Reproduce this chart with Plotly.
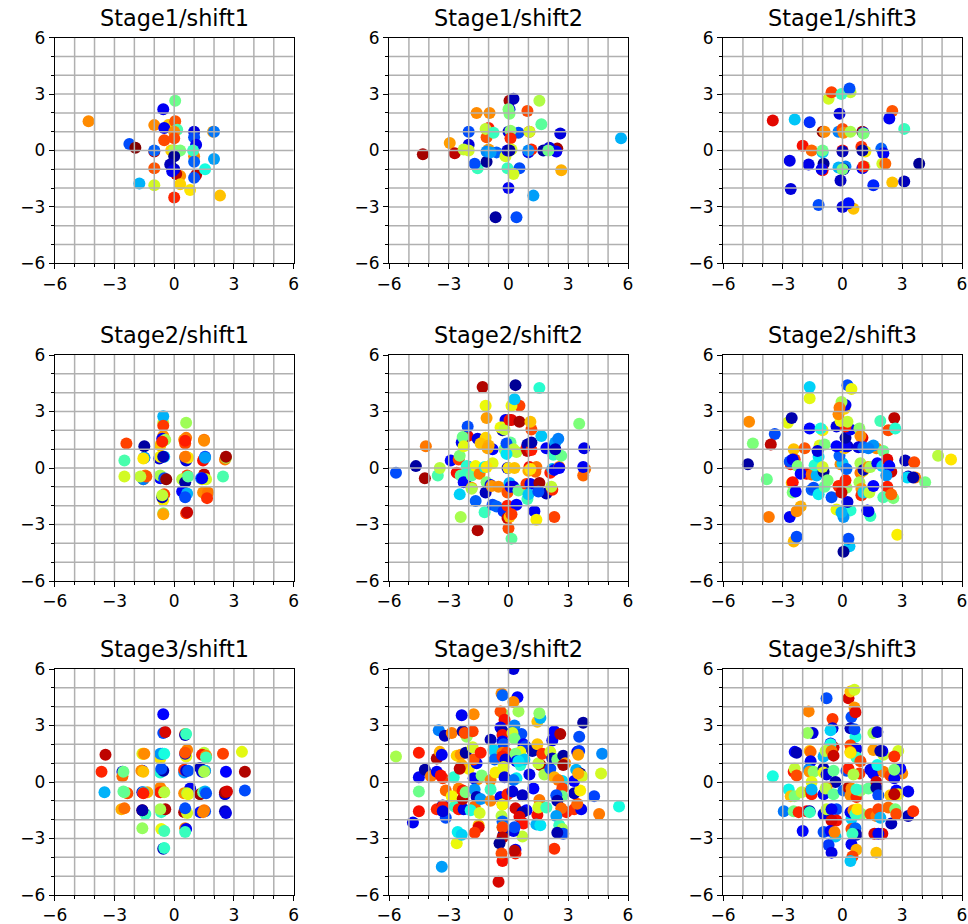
import plotly.graph_objects as go

# each point: (x, y, colour value on the jet scale 0..1)
stage1_shift1 = [(-4.3,1.55,.76),(-2.25,.35,.2),(-1.95,.15,1.0),(-1,1.35,.76),(-.55,2.2,.1),(.05,2.65,.48),(-.3,1.35,.7),(-.5,1.2,.1),(.05,1.55,.82),(.15,1.1,.44),(0,1,.76),(-.5,.55,.83),(0,.65,.83),(1,1,.08),(1,.7,.2),(1.1,.3,.1),(1.95,1,.74),(2,1,.24),(-1,-.05,.95),(-1,0,.22),(0,0,1.0),(-.15,0,.68),(0,0,.56),(.3,0,.5),(1,-.3,.76),(.95,0,.42),(1,-.6,.22),(2,-.45,.28),(0,-.3,.02),(-.2,-.75,.05),(-1,-.95,.82),(.3,-1.35,.75),(.1,-1.25,.95),(0,-1,.07),(-.1,-1.1,.1),(1.1,-1.3,.95),(1,-1.45,.2),(1.55,-1,.38),(-1.75,-1.75,.3),(-1,-1.85,.6),(.3,-1.8,.68),(.8,-2.1,.66),(2.3,-2.4,.7),(0,-2.5,.87)]
stage1_shift2 = [(-4.3,-.2,.97),(-2.95,.4,.74),(-2.7,-.15,.95),(-2,.3,.08),(-2.25,.05,.58),(-2,0,.6),(-2,1,.2),(-1.55,-.95,.42),(-1.7,-.7,.2),(-1.6,2,.76),(-.95,2,.76),(-1.1,.7,.82),(-1,1.2,.88),(-1.15,1.15,.58),(-.75,.95,.42),(-1.1,-.6,.02),(-1,.05,.74),(-1.1,-.05,.26),(-.6,-.1,.22),(-.9,-.1,.28),(-.65,-3.55,.03),(.4,-3.55,.2),(0,-2,.1),(1.25,-2.4,.28),(.05,2.65,.97),(.25,2.75,.05),(.05,2.2,.1),(0,2.2,.5),(.05,1.95,.5),(1.55,2.65,.56),(.95,2.1,.83),(1.65,1.4,.46),(0,1,.08),(.5,.95,.2),(.1,1.05,.52),(.1,.65,.87),(1.05,1,.85),(1.05,1,.6),(2.6,.9,.08),(-.15,-.3,.6),(.15,.05,.6),(0,0,.86),(-.05,0,.08),(.05,0,.03),(-.05,-.95,.42),(.55,-.95,.2),(.25,-1.25,.6),(1,-.1,.1),(1.15,.05,.87),(1,0,.26),(1.75,0,.03),(2.45,.1,.97),(2.05,.15,.08),(2.4,-.05,.1),(2,0,.48),(2.65,-1.05,.72),(5.65,.65,.3)]
stage1_shift3 = [(-3.5,1.6,.92),(-2.4,1.65,.32),(-1.65,1.5,.17),(-2,.25,.9),(-1.55,0,.8),(-2.65,-.55,.09),(-1.7,-.75,.09),(-2.6,-2.05,.08),(-1.2,-2.9,.2),(-.95,-.7,.02),(-1,-1.05,.9),(-1.05,-1,.1),(-1,1,.98),(-.9,1,.76),(-1,-.1,.32),(-1,0,.48),(-.2,1,.25),(0,1.15,.83),(.05,.95,.76),(.4,1,.55),(-.15,1.95,.08),(-.7,2.75,.6),(-.55,3.1,.84),(.4,3.1,.58),(-.05,3,.42),(.35,3.3,.2),(1,1,.98),(1.05,.95,.1),(1.05,.9,.5),(2.5,2.1,.82),(2.35,1.7,.1),(3.1,1.15,.42),(0,0,.9),(0,-.05,.05),(.95,.2,.86),(1.15,-.05,.65),(1,0,.03),(1.95,.1,.22),(2.05,-.15,.1),(2,-.7,.6),(2.15,-.7,.8),(3.85,-.7,.02),(-.2,-.9,.3),(.15,-.85,.25),(.05,-1,.05),(0,-1,.5),(1.1,-.85,.55),(1,-.95,.1),(1.05,-.85,.88),(-.1,-1.6,.06),(1.55,-1.85,.16),(2.5,-1.7,.7),(3.1,-1.65,.05),(.55,-3.1,.7),(0,-3,.08),(.3,-2.8,.14)]
stage2_shift1 = [(-2.5,.4,.44),(-2.4,1.3,.84),(-2.5,-.45,.6),(-1.5,1.15,.03),(-1.5,.55,.2),(-1.5,.55,.28),(-1.55,.5,.66),(-1.45,-.4,.78),(-1.55,-.6,.76),(-1.55,-.6,.25),(-1.4,-.45,.82),(-1.7,-.45,.58),(-.55,2.4,.58),(-.55,2.75,.3),(-.55,2.25,.85),(-.7,1.2,.7),(-.55,1.7,.75),(-.6,1.55,.1),(-.45,1.5,.55),(-.6,1.4,.87),(-.5,.6,.3),(-.75,.5,.08),(-.7,.6,.65),(-.55,.6,.05),(-.7,-.55,.12),(-.7,-.4,.55),(-.5,-.55,.2),(-.4,-.6,.98),(-.5,-1.4,.84),(-.55,-1.7,.65),(-.6,-1.55,.05),(-.6,-1.45,.58),(-.55,-2.4,.5),(-.55,-2.45,.73),(.6,2.4,.54),(.6,1.6,.78),(.5,1.5,.76),(.55,1.3,.83),(.55,1.45,.88),(.6,.6,.76),(.55,.55,.25),(.6,.4,.08),(.7,.55,.66),(.55,.6,.78),(.65,-.4,.85),(.4,-.6,.57),(.55,-.75,.03),(.7,-.45,.46),(.4,-1.25,.12),(.65,-1.35,.3),(.55,-1.55,.2),(.6,-2.4,.84),(.65,-2.35,.94),(1.5,1.5,.78),(1.5,1.45,.76),(1.45,.4,.9),(1.55,.6,.2),(1.55,.55,.28),(1.5,-.35,.95),(1.4,-.6,.65),(1.6,-.6,.6),(1.35,-.55,.25),(1.4,-.55,.1),(1.45,-1.3,.76),(1.7,-1.3,.78),(1.65,-1.6,.86),(2.55,.45,.78),(2.6,.55,.55),(2.6,.6,.97),(2.45,-.45,.44)]
stage2_shift2 = [(-5.65,-.25,.2),(-4.65,.1,.03),(-4.2,-.55,.97),(-4.15,1.15,.78),(-3.55,-.4,.44),(-3.45,0,.57),(-2.9,.4,.13),(-2.6,-.25,.9),(-2.5,.45,.84),(-2.45,.65,.5),(-2.4,-2.6,.55),(-2.45,-1.4,.33),(-2.05,1.7,.92),(-2.35,1.35,.1),(-2.3,1.65,.48),(-2.05,2.2,.2),(-2.25,1.15,.62),(-2.1,-.5,.03),(-2,.05,.1),(-2.1,.1,.4),(-2.4,-.4,.46),(-2.2,-.4,.42),(-2.25,-.75,.12),(-1.85,-1.05,.75),(-1.85,-1.1,.56),(-1.85,-.4,.46),(-1.65,-1.75,.22),(-1.65,.1,.64),(-1.45,-.3,.78),(-1.55,-3.3,.96),(-1.55,1.55,.09),(-1.3,4.3,.96),(-1.15,3.3,.63),(-1.1,2.65,.74),(-1.2,-2.35,.42),(-1.15,-1.3,.05),(-1.1,-.75,.5),(-1.2,.05,.36),(-.8,1,.12),(-1.15,1.6,.68),(-1.4,1.3,.7),(-1,1.2,.72),(-1.05,1.05,.73),(-.8,.25,.62),(-1.1,.05,.66),(-.9,-.9,.1),(-.85,-.95,.75),(-.5,-1,.76),(-.8,-1.95,.2),(-.6,-2.05,.22),(-.25,-2.3,.17),(-.15,2.55,.1),(-.3,2,.05),(-.3,2.15,.68),(-.4,2.15,.63),(-.2,2.05,.58),(.05,2.55,.9),(.15,2.55,.92),(.55,2.45,.97),(.55,3.3,.84),(.15,3.3,.63),(.3,3.65,.32),(.35,4.4,.02),(-.2,1,.52),(.1,1.35,.47),(-.1,1.3,.2),(.4,.85,.57),(.25,1,.58),(-.1,.75,.35),(-.05,0,.08),(0,0,.66),(.3,0,.7),(-.05,-1.3,.82),(.05,-.8,.3),(.1,-1,.1),(.25,-1,.09),(.5,-1.2,.48),(-.05,-2,.88),(.4,-1.95,.12),(-.05,-2.65,.94),(.05,-2.6,.7),(.15,-2.45,.85),(0,-3.2,.83),(.15,-3.75,.46),(.9,1.05,.88),(.95,.9,.95),(.95,1.25,.05),(1.15,.95,.88),(1.15,1.35,.04),(1.15,2.05,.83),(1.1,2.45,.7),(1.65,1.7,.32),(1.55,4.25,.4),(1.05,.05,.9),(1.4,.05,.78),(1.35,-.2,.8),(1,-.15,.72),(1.1,-.05,.66),(.9,-.85,.85),(1.1,-.85,.1),(.95,-1.65,.43),(1,-1.4,.32),(1.3,-2.3,.1),(1.4,-2.75,.65),(1.9,-1.35,.05),(1.55,-.8,.97),(1.5,-1.25,.2),(1.9,1.05,.1),(2.3,-2.6,.84),(2.1,-.25,.88),(2.2,-1.15,.87),(2.15,-1,.58),(2.2,-.05,.3),(2.3,-.1,.1),(2.55,.05,.78),(2.55,0,.12),(2.25,.7,.42),(2.65,.65,.48),(2.35,1.35,.28),(2.5,1.55,.25),(2.35,1,.05),(3.55,2.35,.5),(3.85,-.05,.78),(3.75,-.4,.8),(3.75,.05,.1),(3.8,1.05,.09)]
stage2_shift3 = [(-4.75,.2,.03),(-4.69,2.46,.76),(-4.5,1.3,.5),(-3.4,1.8,.2),(-3.6,1.25,.95),(-3.8,-.6,.48),(-3.7,-2.6,.78),(-2.65,-2.6,.1),(-2.75,2.4,.62),(-2.55,2.65,.04),(-2.45,1,.7),(-2.6,.2,.88),(-2.65,.35,.2),(-2.4,.45,.84),(-2.5,.45,.1),(-2.55,-.8,.7),(-2.5,-.75,.89),(-2.5,-1.3,.5),(-2.35,-1.25,.12),(-2.1,-2.05,.72),(-2.3,-2.3,.76),(-2.45,-3.9,.71),(-2.3,-3.65,.2),(-2.25,.1,.5),(-1.8,-.3,.9),(-2.1,-.3,.12),(-1.9,1.05,.82),(-1.65,2.1,.13),(-1.65,4.3,.33),(-1.65,3.7,.62),(-1.55,-.35,.8),(-1.55,-1.15,.22),(-1.45,-1.05,.2),(-1.2,-1.4,.36),(-1.3,-.4,.3),(-1.4,.15,.4),(-1.2,.6,.35),(-1.15,1.2,.62),(-.9,1.25,.5),(-1.25,.9,.08),(-1,2,.65),(-1.1,2.1,.38),(-.95,-.2,.02),(-.9,-1,.47),(-.75,-.65,.5),(-1,.05,.6),(-.55,-1.55,.2),(-.3,-2.2,.63),(.4,-2.25,.4),(.05,-2.6,.27),(-.05,-2.35,.3),(.35,-4.15,.32),(.3,-3.75,.2),(.05,-4.45,.02),(.25,-1.8,.08),(.2,-1.05,.53),(-.2,-.95,.87),(-.05,-1.3,.94),(.15,-.65,.88),(-.1,.2,.76),(0,.25,.32),(.2,-.05,.22),(-.15,.65,.22),(.1,1.05,.7),(-.3,1.15,.12),(.25,1.15,.06),(.15,1.15,.1),(.15,1.6,.03),(-.3,2.2,.08),(.4,2.05,.1),(.15,2.2,.88),(-.1,2.5,.63),(.25,2.45,.58),(-.2,2.85,.76),(.1,3.15,.68),(.15,3.35,.1),(-.05,3.5,.55),(-.15,3.2,.78),(.25,4.4,.2),(.45,4.2,.63),(.85,2.1,.52),(1,1.6,.92),(.9,1.7,.76),(1.7,1.05,.76),(1.55,1.2,.27),(.8,1.1,.08),(1.05,1.1,.22),(1.3,1.05,.25),(1.9,2.5,.43),(2.3,2,.83),(2.6,2.65,.95),(2.65,2.1,.4),(2.05,.9,.48),(.9,.25,.55),(.9,-.25,.78),(1.05,-.15,.65),(1.05,-.1,.05),(1.3,.05,.76),(1.4,.05,.55),(.85,-.75,.55),(.95,-1.1,.75),(.95,-1.45,.87),(1.05,-1.3,.33),(1.35,-1.3,.58),(1.55,-.95,.12),(1.4,-2.55,.42),(1.25,-2.25,.07),(1.3,-2.3,.1),(1.75,.25,.12),(2,.1,.33),(2.45,-.2,.94),(2.25,.45,.92),(2.35,.1,.12),(2.2,-.4,.27),(2.25,-1,.88),(2.05,-1.55,.44),(2.55,-1.6,.5),(2.45,-1.4,.8),(3.15,.4,.05),(3.6,.3,.83),(3.3,-.45,.05),(3.25,-.5,.34),(3.65,-.5,.78),(3.55,-.5,.04),(4.15,-.75,.49),(4.8,.65,.57),(5.45,.45,.66),(2.75,-3.55,.65)]
stage3_shift1 = [(-3.65,.55,.87),(-3.45,1.45,.95),(-3.5,-.55,.3),(-2.6,.55,.08),(-2.6,.3,.8),(-2.55,.55,.48),(-2.35,-.6,.83),(-2.5,-.55,.5),(-2.55,-.5,.47),(-2.65,-1.45,.72),(-2.5,-1.4,.79),(-1.6,-2.45,.53),(-1.6,1.5,.6),(-1.55,1.5,.7),(-1.5,1.5,.76),(-1.6,.6,.1),(-1.65,.6,.76),(-1.55,.55,.7),(-1.6,-.55,.08),(-1.35,-.55,.72),(-1.55,-.55,.33),(-1.55,-.6,.88),(-1.45,-1.7,.42),(-1.6,-1.5,.97),(-1.6,-1.5,.04),(-.55,3.6,.12),(-.55,2.6,.2),(-.45,2.65,.93),(-.7,1.25,.66),(-.6,1.5,.12),(-.7,1.5,.27),(-.5,1.5,.38),(-.7,.5,.4),(-.55,.6,.04),(-.65,.7,.2),(-.7,-.3,.77),(-.55,-.5,.76),(-.7,-.55,.88),(-.5,-.55,.57),(-.65,-1.6,.42),(-.45,-1.45,.96),(-.7,-1.45,.55),(-.65,-2.5,.63),(-.5,-2.6,.43),(-.55,-3.55,.05),(-.5,-3.5,.41),(.55,2.55,.78),(.55,2.5,.05),(.6,2.55,.42),(.65,1.7,.77),(.6,1.35,.63),(.55,1.5,.08),(.55,1.55,.82),(.5,.5,.28),(.5,.65,.86),(.6,.6,.07),(.7,.6,.2),(.8,-.35,.1),(.5,-.6,.76),(.65,-.6,.56),(.7,-.65,.62),(.5,-1.6,.96),(.65,-1.65,.6),(.55,-1.4,.2),(.55,-2.45,.78),(.6,-2.5,.1),(.55,-2.65,.42),(1.3,.75,.05),(1.4,.55,.08),(1.55,.6,.82),(1.55,.6,.3),(1.5,.55,.55),(1.5,1.55,.57),(1.4,1.45,.88),(1.6,1.4,.77),(1.6,1.3,.43),(2.45,1.5,.84),(1.3,-.65,.97),(1.45,-.55,.48),(1.55,-.5,.3),(1.6,-.6,.2),(1.3,-1.6,.14),(1.55,-1.55,.2),(1.5,-1.5,.78),(1.45,-1.6,.77),(2.6,.55,.12),(2.55,-.65,.08),(2.55,-.55,.97),(2.65,-.5,.93),(2.55,-1.55,.05),(2.6,-1.65,.09),(3.4,1.6,.62),(3.55,.55,.96),(3.55,-.45,.2)]
stage3_shift2 = [(-5.65,1.35,.55),(-4.8,-2.15,.1),(-4.5,1.55,.88),(-4.5,-.5,.48),(-4.5,-1.55,.9),(-4.5,.25,.1),(-4.2,.65,.03),(-3.9,.3,.78),(-3.6,.55,.1),(-3.3,.2,.85),(-3.4,.35,.9),(-3.6,1.25,.96),(-3.45,1.6,.72),(-3.35,1.45,.1),(-3.6,-1.45,.87),(-3.15,-1.9,.2),(-3.3,-1.25,.03),(-3.3,-1.3,.88),(-3.3,-1.55,.08),(-3.15,-.45,.8),(-3.5,2.75,.25),(-3.2,2.45,.05),(-2.85,2.6,.78),(-2.75,.25,.4),(-2.6,1.4,.68),(-2.4,1.45,.75),(-2.5,-.35,.77),(-2.7,-1.3,.42),(-2.85,-.75,.64),(-2.5,-1.45,.88),(-2.25,-1.45,.09),(-2.6,-3.25,.63),(-2.55,-2.65,.36),(-2.35,-2.8,.33),(-2.35,3.55,.1),(-2.1,2.4,.53),(-2.3,2.7,.04),(-2.2,2.6,.83),(-2,.7,.65),(-2.35,.9,.72),(-2.45,.7,.95),(-2.3,-.9,.95),(-2.3,-.45,.88),(-2.15,1.55,.03),(-2.15,-.55,.5),(-1.8,2.7,.84),(-1.75,3.6,.76),(-1.8,1.85,.6),(-1.6,1,.13),(-1.75,1.2,.82),(-1.55,.15,.76),(-1.75,.2,.1),(-1.7,-.4,.27),(-1.6,-.8,.05),(-1.7,-1.3,.8),(-1.9,-1.5,.38),(-1.45,-1.65,.6),(-1.5,-2.3,.7),(-1.5,-2.4,.92),(-1.7,-2.7,.85),(-1.4,1.55,.88),(-1.35,.35,.5),(-1.4,-.9,.27),(-.9,.1,.77),(-.9,2.25,.05),(-.75,1.7,.33),(-.9,-1,.77),(-.9,-.4,.42),(-.65,.5,.65),(-.7,1.2,.22),(-.35,4.7,.76),(-.3,4.6,.22),(-.25,3.6,.53),(-.4,3.75,.83),(-.2,3.3,.9),(-.4,2.9,.1),(-.3,2.7,.05),(-.3,2.5,.9),(-.3,2.15,.1),(-.25,2,.2),(-.3,1.55,.78),(-.1,1.55,.84),(-.3,1.35,.88),(-.15,1.2,.08),(-.25,.8,.62),(-.2,.25,.08),(-.4,-.8,.12),(-.3,-1.2,.75),(-.3,-1.2,.64),(-.05,-.65,.88),(-.35,-1.8,.57),(-.3,-2.1,.22),(-.3,-2.4,.5),(-.25,-2.8,.03),(-.3,-2.4,.84),(-.3,-2.95,.95),(-.45,-3.25,.02),(-.3,-4.2,.9),(-.35,-3.8,.83),(-.5,-5.3,.93),(.25,6,.08),(.45,4.5,.11),(.25,4.25,.76),(.5,3.75,.54),(.3,3,.25),(.65,2.55,.2),(.2,2.6,.6),(.3,2.3,.5),(.75,2,.12),(.85,1.9,.18),(.6,1.6,.63),(.35,1.5,.5),(.4,1.1,.1),(.6,.9,.4),(.8,1.2,.32),(.5,1.1,.35),(.4,.2,.36),(.25,.1,.24),(.2,-.5,.08),(.7,-.7,.06),(.35,-1.4,.93),(.9,-1.5,.12),(.7,-1.6,.04),(.55,-1.85,.92),(.75,-2.2,.89),(.7,-2.9,.58),(.25,-2.6,.09),(.3,-2.4,.2),(.35,-3.6,.1),(.35,-3.8,.88),(.3,-3.65,.95),(1.2,1.65,.04),(1.05,.4,.09),(1.25,-.35,.12),(1.45,2,.7),(1.45,3.2,.7),(1.6,3.4,.3),(1.55,3.65,.52),(1.6,.9,.96),(1.5,1,.58),(1.7,1.5,.86),(1.8,.4,.55),(1.55,-.95,.78),(1.45,-1.75,.9),(1.5,-1.35,.6),(1.9,-1.35,.42),(1.4,-2.25,.3),(1.6,-2.3,.35),(2.1,.7,.2),(2.2,2.2,.1),(2.3,2.7,.11),(2.6,2.55,.96),(2.1,1.6,.6),(2.2,1.25,.05),(2.45,1.2,.5),(2.75,1.4,.03),(2.85,1,.75),(2.75,.9,.97),(2.3,.25,.72),(2.7,.05,.34),(2.5,.1,.78),(2.7,-.35,.84),(2.7,-.75,.48),(2.4,-.7,.2),(2.45,-1,.04),(2.9,-1.6,.88),(2.65,-1.4,.8),(2.4,-1.8,.28),(2.55,-2.3,.42),(2.7,-2.5,.55),(2.75,-2.75,.2),(2.45,-2.7,.04),(2.3,-3.55,.86),(3.3,-1.45,.86),(3.65,-1.45,.1),(3.45,-1.15,.8),(3.3,-.6,.05),(3.6,-.45,.65),(3.4,.65,.3),(3.3,.05,.11),(3.6,.45,.02),(3.7,.3,.6),(3.5,.45,.73),(3.45,1.6,.1),(3.55,1.65,.18),(3.5,1.45,.74),(3.55,2.4,.2),(3.75,3.15,.03),(4.3,-.75,.19),(4.55,-1.7,.78),(4.65,.45,.6),(4.7,1.5,.26),(5.55,-1.3,.38),(-3.35,-4.5,.28)]
stage3_shift3 = [(-3.5,.3,.38),(-2.95,-1.55,.24),(-2.7,-.4,.37),(-2.6,-.75,.7),(-2.4,-.75,.5),(-2.45,-1.55,.49),(-2.4,1.6,.13),(-2.3,1.55,.05),(-2.45,.55,.88),(-2.4,.7,.58),(-2.3,.35,.83),(-2,-2.6,.13),(-2.2,-1.6,.87),(-2.05,-.55,.58),(-1.7,3.75,.77),(-1.5,2.6,.08),(-1.75,2.6,.53),(-1.65,1.65,.7),(-1.6,1.6,.8),(-1.6,1.1,.1),(-1.7,.65,.27),(-1.65,.55,.75),(-1.45,.55,.52),(-1.55,0,.62),(-1.6,-.45,.8),(-1.55,-.65,.88),(-1.55,-.4,.3),(-1.8,-1.55,.9),(-1.65,-1.55,.04),(-1.65,-1.6,.42),(-.8,4.45,.2),(-.5,3.35,.85),(-.5,2.85,.08),(-.6,2.75,.33),(-.6,2.05,.1),(-.45,1.85,.93),(-.6,2,.38),(-.95,1.35,.3),(-.85,1.65,.57),(-.55,1.65,.78),(-.45,1.4,.94),(-.95,.7,.05),(-.95,.5,.63),(-.8,.4,.08),(-.45,.6,.47),(-.35,0,.04),(-.95,-.65,.1),(-.8,-.3,.76),(-.85,-.35,.57),(-.45,-.65,.47),(-.95,-1.7,.09),(-.8,-1.45,.58),(-.3,-1.45,.2),(-.55,-1.45,.1),(-.3,-2.05,.9),(-.55,-2.05,.93),(-.95,-2.65,.2),(-.6,-2.6,.12),(-.35,-2.9,.32),(-.4,-2.65,.77),(-.7,-3.35,.18),(-.55,-3.75,.09),(.3,4.45,.93),(.4,4.8,.7),(.6,4.9,.6),(.6,3.95,.75),(.45,3.45,.2),(.65,3.7,.92),(.4,2.85,.05),(.65,2.4,.38),(.6,2.8,.2),(.4,1.95,.84),(.7,1.75,.1),(.7,1.3,.42),(.4,1.6,.77),(.4,1.55,.66),(.9,1.1,.83),(.2,.6,.2),(.3,.7,.88),(.85,.45,.85),(.55,.4,.56),(.05,-.45,.22),(.3,-.3,.95),(.45,-.35,.77),(.4,-.7,.76),(.7,-.8,.87),(.9,-.45,.52),(.7,-.4,.41),(.45,-1.95,.33),(.4,-1.6,.1),(.55,-1.5,.76),(.95,-1.7,.5),(.65,-1.7,.42),(.75,-1.45,.66),(.45,-2.5,.83),(.65,-2.45,.22),(.7,-2.8,.05),(.5,-2.75,.42),(.45,-3.3,.1),(.7,-3.6,.72),(.5,-3.95,.84),(.4,-4.2,.32),(1.4,-1.7,.83),(1.7,-1.8,.78),(1.8,-1.45,.84),(1.55,2.6,.55),(1.75,2.65,.08),(1.55,1.7,.74),(2.05,1.45,.58),(2,1.65,.1),(1.9,1.65,.04),(1.4,.65,.09),(1.55,.45,.11),(2.05,.55,.78),(1.75,.9,.37),(1.3,-.35,.47),(1.7,0,.93),(1.7,-.3,.03),(1.8,-.7,.2),(1.9,-1.9,.3),(2.45,-2.2,.05),(1.6,-2.75,.93),(2,-2.75,.92),(1.8,-2.75,.1),(1.7,-3.75,.7),(2.8,1.65,.6),(2.6,1.35,.86),(2.3,-1.35,.8),(2.65,-1.45,.5),(2.7,-1.7,.83),(3,.45,.76),(2.9,.7,.12),(2.4,.35,.84),(2.6,.2,.1),(2.6,.65,.5),(2.4,-.7,.7),(2.7,-.45,.12),(2.8,-.65,.65),(2.6,-.65,.95),(3.3,-.5,.1),(3.3,-1.8,.05),(3.55,-1.55,.86)]

panels = [stage1_shift1, stage1_shift2, stage1_shift3,
          stage2_shift1, stage2_shift2, stage2_shift3,
          stage3_shift1, stage3_shift2, stage3_shift3]
titles = ["Stage1/shift1", "Stage1/shift2", "Stage1/shift3",
          "Stage2/shift1", "Stage2/shift2", "Stage2/shift3",
          "Stage3/shift1", "Stage3/shift2", "Stage3/shift3"]
major_ticks = [-6, -3, 0, 3, 6]
grid_ticks = [-5, -4, -3, -2, -1, 0, 1, 2, 3, 4, 5]

W, H = 968, 924
col_px = [(54.7, 293.7), (389, 628), (723, 962)]
row_px = [(37.7, 263.3), (355, 581), (669, 895)]
FONT = "DejaVu Sans"
GRID = "#b0b0b0"
jet = [[0, "#00007f"], [.11, "#0000ff"], [.125, "#0000ff"], [.35, "#00e5f7"],
       [.375, "#12fde4"], [.5, "#7cff79"], [.64, "#f4f802"], [.66, "#ffe600"],
       [.75, "#ff9400"], [.89, "#ff1300"], [.91, "#f00800"], [1, "#7f0000"]]

fig = go.Figure()
shapes, annotations = [], []
for i, (pts, title) in enumerate(zip(panels, titles)):
    n = "" if i == 0 else str(i + 1)
    r, c = divmod(i, 3)
    xs, ys, cs = zip(*pts)
    fig.add_trace(go.Scatter(
        x=xs, y=ys, mode="markers", xaxis="x" + n, yaxis="y" + n, showlegend=False,
        marker=dict(size=12, color=cs, colorscale=jet, cmin=0, cmax=1, line_width=0),
    ))
    axis = dict(
        range=[-6, 6], tickmode="array", tickvals=major_ticks, ticks="outside",
        ticklen=5, tickwidth=1.1, tickcolor="#000", showgrid=False, zeroline=False,
        showline=True, linecolor="#000", linewidth=1.1, mirror=True, layer="above traces",
        automargin=False,
        tickfont=dict(family=FONT, size=17, color="#000"),
        minor=dict(tickmode="array", tickvals=grid_ticks, ticks="outside", ticklen=3,
                   tickwidth=1, tickcolor="#000", showgrid=False),
    )
    x0, x1 = col_px[c]
    top, bot = row_px[r]
    fig.update_layout({
        "xaxis" + n: dict(axis, domain=[x0 / W, x1 / W], anchor="y" + n),
        "yaxis" + n: dict(axis, domain=[1 - bot / H, 1 - top / H], anchor="x" + n),
    })
    for t in grid_ticks:
        line = dict(type="line", xref="x" + n, yref="y" + n, layer="above",
                    line=dict(color=GRID, width=1.5))
        shapes.append(dict(line, x0=t, x1=t, y0=-6, y1=6))
        shapes.append(dict(line, x0=-6, x1=6, y0=t, y1=t))
    annotations.append(dict(
        text=title, xref=f"x{n} domain", yref=f"y{n} domain", x=.5, y=1, xanchor="center",
        yanchor="bottom", yshift=5, showarrow=False,
        font=dict(family=FONT, size=22.4, color="#000"),
    ))

fig.update_layout(width=W, height=H, autosize=False, margin=dict(l=0, r=0, t=0, b=0, pad=0),
                  paper_bgcolor="#fff", plot_bgcolor="#fff", shapes=shapes,
                  annotations=annotations, hovermode=False)
fig.write_html("out.html", config={"displayModeBar": False},
               post_script="document.body.style.margin='0';")
